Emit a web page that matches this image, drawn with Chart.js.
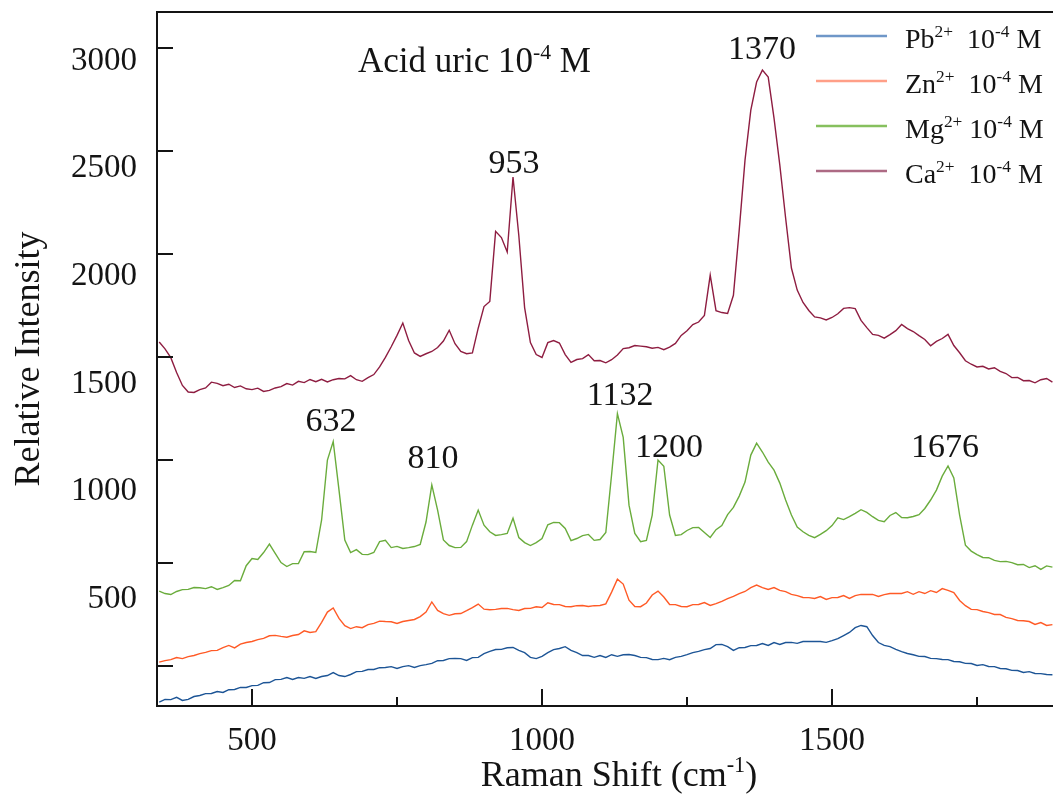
<!DOCTYPE html>
<html><head><meta charset="utf-8">
<script src="https://cdn.jsdelivr.net/npm/chart.js@4.4.1/dist/chart.umd.min.js"></script>
<style>html,body{margin:0;padding:0;background:#fff;}canvas{display:block}</style>
</head><body>
<canvas id="c" width="1053" height="797"></canvas>
<script>
// Raman shift grid (cm-1)
const shift = [340,350,360,370,380,390,400,410,420,430,440,450,460,470,480,490,500,510,520,530,540,550,560,570,580,590,600,610,620,630,640,650,660,670,680,690,700,710,720,730,740,750,760,770,780,790,800,810,820,830,840,850,860,870,880,890,900,910,920,930,940,950,960,970,980,990,1000,1010,1020,1030,1040,1050,1060,1070,1080,1090,1100,1110,1120,1130,1140,1150,1160,1170,1180,1190,1200,1210,1220,1230,1240,1250,1260,1270,1280,1290,1300,1310,1320,1330,1340,1350,1360,1370,1380,1390,1400,1410,1420,1430,1440,1450,1460,1470,1480,1490,1500,1510,1520,1530,1540,1550,1560,1570,1580,1590,1600,1610,1620,1630,1640,1650,1660,1670,1680,1690,1700,1710,1720,1730,1740,1750,1760,1770,1780,1790,1800,1810,1820,1830,1840,1850,1860,1870,1880];

const pb = [-175,-162,-163,-152,-167,-162,-148,-143,-134,-133,
 -124,-128,-115,-114,-104,-104,-95,-94,-81,-80,
 -66,-65,-56,-65,-56,-60,-51,-60,-51,-46,
 -32,-46,-51,-41,-27,-26,-17,-17,-8,-7,
 -3,-12,-3,2,-7,2,7,13,26,27,
 36,37,36,27,41,42,60,71,80,81,
 89,90,76,65,42,36,47,65,80,85,
 94,76,65,51,51,42,51,42,55,47,
 55,56,51,42,41,32,31,37,31,42,
 47,55,65,71,80,85,104,105,94,76,
 89,90,99,100,109,100,114,105,114,115,
 110,119,119,119,119,115,123,133,148,163,
 186,197,191,148,114,100,94,81,70,61,
 55,47,46,37,36,32,31,22,21,13,
 12,3,7,-2,-3,-12,-13,-21,-22,-31,
 -27,-36,-37,-41,-42];

const zn = [19,26,31,41,36,46,51,60,66,75,
 76,89,100,88,106,114,119,128,134,147,
 149,144,140,148,153,171,163,167,212,262,
 282,231,196,182,191,186,201,207,218,216,
 215,207,216,221,226,240,262,311,270,254,
 246,254,255,269,284,301,276,273,275,279,
 280,274,270,279,280,288,284,307,299,298,
 289,288,293,294,289,293,294,302,359,422,
 398,320,289,288,306,345,364,335,299,298,
 289,288,298,299,308,294,303,314,327,338,
 352,362,381,393,381,372,381,367,361,348,
 342,333,332,328,337,323,332,333,342,328,
 342,348,347,348,338,347,352,352,352,361,
 348,361,352,366,357,376,367,356,318,293,
 275,274,265,259,250,250,236,230,221,220,
 216,202,211,197,201];

const mg = [364,352,347,362,371,372,381,380,376,385,
 372,381,391,415,414,487,522,517,551,592,
 547,502,483,497,498,555,556,551,709,1000,
 1090,854,612,551,565,542,541,551,604,610,
 575,581,571,575,580,590,699,879,757,612,
 585,575,576,604,684,757,684,652,634,638,
 644,718,624,599,585,599,619,686,697,696,
 668,609,619,633,639,610,614,648,930,1225,
 1110,781,644,604,610,733,1000,970,733,634,
 638,658,672,673,648,624,662,682,735,770,
 825,893,1024,1082,1039,990,951,888,806,733,
 675,652,634,623,639,657,682,720,711,725,
 741,759,746,725,707,701,731,745,721,720,
 726,735,765,806,854,922,971,913,733,587,
 558,541,527,526,513,507,508,502,492,493,
 478,487,469,486,480];

const ca = [1573,1540,1497,1425,1362,1330,1328,1342,1350,1378,
 1372,1361,1368,1352,1360,1346,1342,1349,1333,1338,
 1350,1356,1371,1364,1382,1376,1391,1380,1392,1379,
 1390,1396,1394,1410,1390,1382,1400,1415,1452,1498,
 1550,1605,1665,1580,1520,1503,1516,1527,1546,1578,
 1630,1565,1527,1516,1520,1640,1745,1770,2110,2080,
 2010,2374,2090,1740,1570,1512,1498,1570,1580,1568,
 1512,1474,1488,1492,1512,1482,1483,1472,1487,1510,
 1541,1545,1556,1553,1550,1543,1547,1536,1548,1566,
 1605,1628,1658,1670,1702,1898,1725,1716,1712,1800,
 2116,2456,2699,2835,2893,2859,2660,2432,2175,1932,
 1825,1765,1726,1695,1690,1680,1692,1710,1736,1740,
 1735,1678,1643,1610,1605,1592,1609,1628,1658,1638,
 1624,1604,1585,1555,1576,1590,1610,1556,1521,1482,
 1465,1452,1455,1442,1448,1430,1420,1400,1401,1385,
 1386,1375,1390,1396,1378];

const seriesIons = ['Pb', 'Zn', 'Mg', 'Ca'];
const yTickValues = [0, 500, 1000, 1500, 2000, 2500, 3000];
const yLabelValues = [500, 1000, 1500, 2000, 2500, 3000];
const xMajorTicks = [500, 1000, 1500];
const xMinorTicks = [750, 1250, 1750];
const peakLabels = ['953', '1370', '632', '810', '1132', '1200', '1676'];
const peakLabelX = [951.7, 1379.3, 636.2, 812, 1134.5, 1219, 1694.8];
const peakLabelY = [2393, 2946, 1141, 961, 1267, 1014, 1014];
const titleX = 682.8, titleY = 2883;

const FAMILY = "'Liberation Serif', 'Times New Roman', serif";
const INK = '#141414';
const lineColors = ['#1d5596', '#ff5a26', '#6aac3c', '#8e1d41'];
const legendColors = ['#6f97c8', '#ff9f88', '#86c05e', '#ad6a84'];

function richWidth(ctx, parts, size) {
  let w = 0;
  parts.forEach(p => { ctx.font = (p.sup ? size * 0.62 : size) + 'px ' + FAMILY; w += ctx.measureText(p.t).width; });
  return w;
}
function drawRich(ctx, parts, x, y, size, align) {
  const w = richWidth(ctx, parts, size);
  let cx = align === 'center' ? x - w / 2 : (align === 'right' ? x - w : x);
  ctx.textBaseline = 'alphabetic';
  ctx.textAlign = 'left';
  parts.forEach(p => {
    const s = p.sup ? size * 0.62 : size;
    ctx.font = s + 'px ' + FAMILY;
    ctx.fillText(p.t, cx, p.sup ? y - size * 0.38 : y);
    cx += ctx.measureText(p.t).width;
  });
}

const decor = {
  id: 'decor',
  afterDraw(chart) {
    const { ctx, chartArea: a, scales } = chart;
    const x = scales.x, y = scales.y;
    ctx.save();
    // frame
    ctx.strokeStyle = INK; ctx.lineWidth = 2;
    ctx.beginPath();
    ctx.moveTo(chart.width, a.top); ctx.lineTo(a.left, a.top);
    ctx.lineTo(a.left, a.bottom); ctx.lineTo(chart.width, a.bottom);
    ctx.stroke();
    // y ticks (inward)
    yTickValues.forEach(v => {
      const p = Math.round(y.getPixelForValue(v));
      ctx.beginPath(); ctx.moveTo(a.left, p); ctx.lineTo(a.left + 16, p); ctx.stroke();
    });
    xMajorTicks.forEach(v => {
      const p = Math.round(x.getPixelForValue(v));
      ctx.beginPath(); ctx.moveTo(p, a.bottom); ctx.lineTo(p, a.bottom - 17); ctx.stroke();
    });
    xMinorTicks.forEach(v => {
      const p = Math.round(x.getPixelForValue(v));
      ctx.beginPath(); ctx.moveTo(p, a.bottom); ctx.lineTo(p, a.bottom - 9); ctx.stroke();
    });
    ctx.fillStyle = INK;
    // peak labels
    ctx.font = '34px ' + FAMILY; ctx.textAlign = 'center'; ctx.textBaseline = 'alphabetic';
    peakLabels.forEach((t, i) => {
      ctx.fillText(t, x.getPixelForValue(peakLabelX[i]), y.getPixelForValue(peakLabelY[i]));
    });
    // in-plot title
    drawRich(ctx, [{t: 'Acid uric 10'}, {t: '-4', sup: true}, {t: ' M'}],
      x.getPixelForValue(titleX), y.getPixelForValue(titleY), 35, 'left');
    // legend
    chart.data.datasets.forEach((ds, i) => {
      const rowY = 36 + i * 45;
      ctx.strokeStyle = legendColors[i]; ctx.lineWidth = 2.5;
      ctx.beginPath(); ctx.moveTo(816, rowY); ctx.lineTo(887, rowY); ctx.stroke();
      ctx.fillStyle = INK;
      const gap = seriesIons[i] === 'Mg' ? '' : ' ';
      drawRich(ctx, [{t: seriesIons[i]}, {t: '2+', sup: true}, {t: gap + ' 10'}, {t: '-4', sup: true}, {t: ' M'}],
        905, rowY + 12, 28, 'left');
    });
    // x axis title
    drawRich(ctx, [{t: 'Raman Shift (cm'}, {t: '-1', sup: true}, {t: ')'}],
      (a.left + a.right) / 2 + 14, 786, 36, 'center');
    ctx.restore();
  }
};

const datasets = [pb, zn, mg, ca].map((arr, i) => ({
  label: seriesIons[i] + '2+ 10-4 M',
  data: shift.map((s, j) => ({ x: s, y: arr[j] })),
  borderColor: lineColors[i],
  borderWidth: 1.4,
  pointRadius: 0,
  tension: 0,
  fill: false,
  yAxisID: 'y'
}));

new Chart(document.getElementById('c'), {
  type: 'line',
  data: { datasets },
  options: {
    responsive: false,
    animation: false,
    events: [],
    layout: { autoPadding: false, padding: { top: 12, right: 0, left: 0, bottom: 0 } },
    plugins: { legend: { display: false }, tooltip: { enabled: false } },
    scales: {
      x: {
        type: 'linear', min: 336.2, max: 1881,
        afterBuildTicks(s) { s.ticks = xMajorTicks.map(v => ({ value: v })); },
        ticks: { padding: 16, font: { family: FAMILY, size: 33 }, color: INK, maxRotation: 0, autoSkip: false,
                 callback: v => String(v) },
        grid: { display: false, drawTicks: false }, border: { display: false },
        afterFit(s) { s.height = 91; s.paddingLeft = 0; s.paddingRight = 0; }
      },
      y: {
        type: 'linear', position: 'left', min: -194, max: 3175,
        ticks: { display: false },
        grid: { display: false, drawTicks: false }, border: { display: false },
        afterFit(s) { s.width = 0; s.paddingTop = 0; s.paddingBottom = 0; }
      },
      yl: {
        type: 'linear', position: 'left', min: 3, max: 3228,
        afterBuildTicks(s) { s.ticks = yLabelValues.map(v => ({ value: v })); },
        ticks: { padding: 20, font: { family: FAMILY, size: 33 }, color: INK, autoSkip: false,
                 callback: v => String(v) },
        grid: { display: false, drawTicks: false }, border: { display: false },
        title: { display: true, text: 'Relative Intensity', color: INK, font: { family: FAMILY, size: 36 }, padding: { top: 8, bottom: 0 } },
        afterFit(s) { s.width = 157; s.paddingTop = 0; s.paddingBottom = 0; }
      }
    }
  },
  plugins: [decor]
});
</script>
</body></html>
